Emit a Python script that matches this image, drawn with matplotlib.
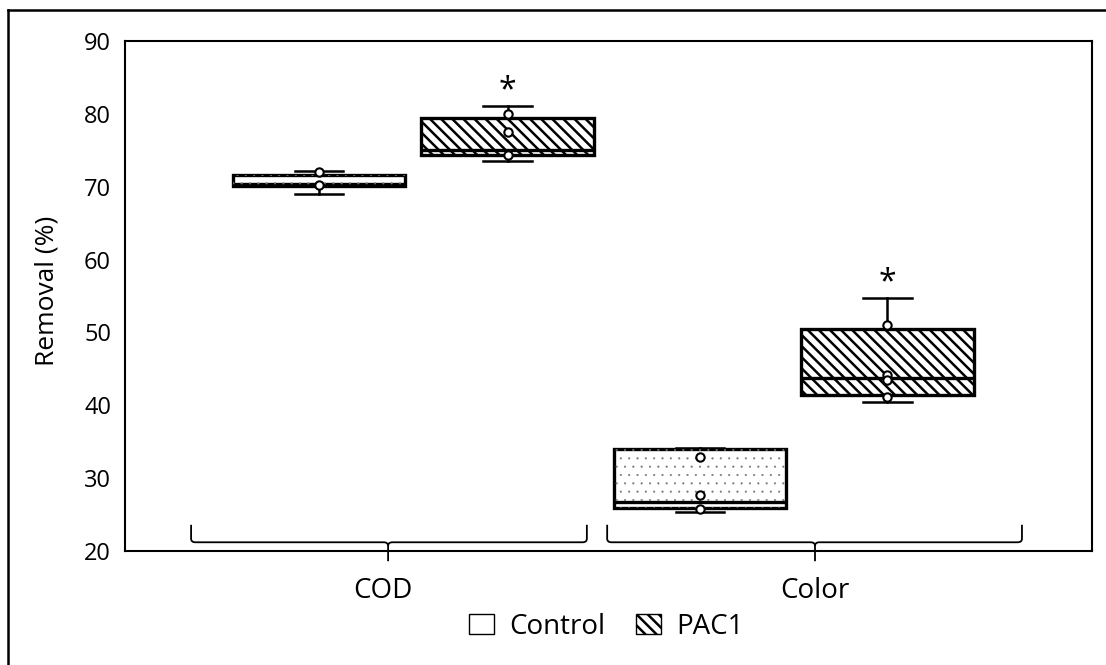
import matplotlib.pyplot as plt
from matplotlib.patches import Patch, PathPatch, Rectangle
from matplotlib.path import Path
from matplotlib.lines import Line2D

plt.rcParams['font.family'] = ['Open Sans', 'DejaVu Sans']
plt.rcParams['hatch.linewidth'] = 1.8

# Data: removal (%) per parameter and treatment
groups = ['COD', 'Color']
treatments = ['Control', 'PAC1']
whisker_lo = [69.0, 73.6, 25.3, 40.4]
q1 = [70.1, 74.3, 25.9, 41.4]
medians = [70.4, 75.1, 26.7, 43.7]
q3 = [71.6, 79.5, 34.0, 50.5]
whisker_hi = [72.2, 81.1, 34.1, 54.7]
points = [
    [72.0, 70.2],
    [80.0, 77.5, 74.3],
    [32.9, 27.7, 25.8],
    [51.0, 44.1, 43.5, 41.1],
]
significant = [False, True, False, True]

positions = [0.852, 1.289, 1.734, 2.167]
width = 0.40
is_control = [True, False, True, False]

fig = plt.figure(figsize=(11.06, 6.65), dpi=100)
ax = fig.add_axes([0.113, 0.1714, 0.8743, 0.7669])

stats = []
for i in range(4):
    stats.append(dict(whislo=whisker_lo[i], q1=q1[i], med=medians[i],
                      q3=q3[i], whishi=whisker_hi[i], fliers=[]))

bp = ax.bxp(stats, positions=positions, widths=width, capwidths=0.113,
            patch_artist=True, showfliers=False,
            boxprops=dict(facecolor='white', edgecolor='black', linewidth=2.4),
            medianprops=dict(color='black', linewidth=2.4),
            whiskerprops=dict(color='black', linewidth=1.8),
            capprops=dict(color='black', linewidth=1.8))
for box, ctrl in zip(bp['boxes'], is_control):
    if not ctrl:
        box.set_hatch('\\\\\\')

# light dotted fill for the control boxes
plt.rcParams['hatch.linewidth'] = 0.3
for x, lo, hi, ctrl in zip(positions, q1, q3, is_control):
    if ctrl:
        ax.add_patch(Rectangle((x - width / 2, lo), width, hi - lo,
                               facecolor='none', edgecolor='#777777',
                               hatch='..', lw=0, zorder=2.5))

# raw observations on top of each box
for x, vals in zip(positions, points):
    ax.plot([x] * len(vals), vals, 'o', ms=6, mfc='white', mec='black',
            mew=1.5, zorder=5)

for x, hi, sig in zip(positions, whisker_hi, significant):
    if sig:
        ax.text(x, hi - 0.2, '*', ha='center', va='bottom', fontsize=23)

# curly braces grouping the treatments
def brace(x0, x1, xm, y_tip=23.6, y_bar=21.2, y_cusp=18.6):
    r = 0.010
    ry = 0.5
    left = [(x0, y_tip), (x0, y_bar + ry), (x0, y_bar), (x0 + r, y_bar),
            (xm - r, y_bar), (xm, y_bar), (xm, y_bar - ry), (xm, y_cusp)]
    right = [(x1, y_tip), (x1, y_bar + ry), (x1, y_bar), (x1 - r, y_bar),
             (xm + r, y_bar), (xm, y_bar), (xm, y_bar - ry)]
    codes = [Path.MOVETO, Path.LINETO, Path.CURVE3, Path.CURVE3,
             Path.LINETO, Path.CURVE3, Path.CURVE3, Path.LINETO]
    for v in (left, right):
        ax.add_patch(PathPatch(Path(v, codes[:len(v)]), fill=False, lw=1.3,
                               edgecolor='black', clip_on=False, zorder=4))

brace(0.556, 1.472, 1.012)
brace(1.519, 2.479, 2.0)

ax.set_xlim(0.403, 2.641)
ax.set_ylim(20, 90)
ax.set_yticks(range(20, 91, 10))
ax.set_xticks([1, 2])
ax.set_xticklabels(groups)
ax.tick_params(axis='both', length=0)
ax.tick_params(axis='y', pad=10, labelsize=17)
ax.tick_params(axis='x', pad=19, labelsize=20)
ax.set_ylabel('Removal (%)', fontsize=19)
ax.yaxis.set_label_coords(-0.068, 0.51)
for s in ax.spines.values():
    s.set_linewidth(1.5)

plt.rcParams['hatch.linewidth'] = 1.8
handles = [Patch(facecolor='white', edgecolor='black', label='Control'),
           Patch(facecolor='white', edgecolor='black', hatch='\\\\\\', label='PAC1')]
fig.legend(handles=handles, loc='center', bbox_to_anchor=(0.548, 0.057),
           ncol=2, frameon=False, fontsize=20, handlelength=0.9,
           handleheight=0.72, columnspacing=1.1, handletextpad=0.55)

# outer frame
fig.add_artist(Line2D([0.0072, 1.0], [0.985, 0.985], color='black', lw=1.8))
fig.add_artist(Line2D([0.0072, 0.0072], [0.0, 0.985], color='black', lw=1.8))

fig.savefig('out.png', dpi=100)
